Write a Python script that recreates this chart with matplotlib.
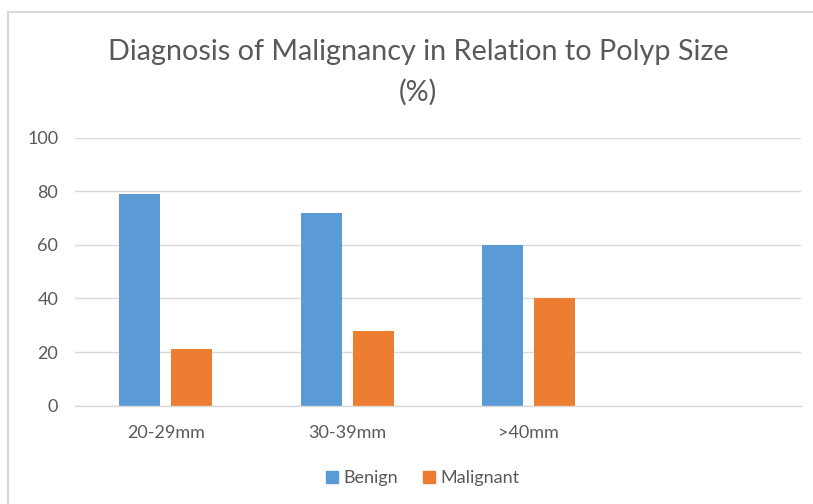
import matplotlib
matplotlib.use("Agg")
import matplotlib.pyplot as plt
from matplotlib.patches import Rectangle
from matplotlib.lines import Line2D
import numpy as np

categories = ["20-29mm", "30-39mm", ">40mm", ""]
benign = [79, 72, 60]
malignant = [21, 28, 40]
series_names = ["Benign", "Malignant"]
yticks = [0, 20, 40, 60, 80, 100]

blue = "#5b9bd5"
orange = "#ed7d31"
grid_c = "#d9d9d9"
text_c = "#595959"

plt.rcParams['font.family'] = ['Lato', 'DejaVu Sans']

W, H = 813, 504
fig = plt.figure(figsize=(W/100, H/100), dpi=100)
ax = fig.add_axes([75/W, 1-405.7/H, (801-75)/W, (405.7-137.5)/H])

x = np.arange(len(benign)) + 0.5
bw = 0.226
off = 0.142
ax.bar(x - off, benign, width=bw, color=blue, label=series_names[0], zorder=3)
ax.bar(x + off, malignant, width=bw, color=orange, label=series_names[1], zorder=3)

ax.set_xlim(0, len(categories))
ax.set_ylim(0, 100)
ax.set_yticks(yticks)
ax.set_yticklabels([str(v) for v in yticks], fontsize=13, color=text_c)
ax.set_xticks(np.arange(len(categories)) + 0.5)
ax.set_xticklabels(categories, fontsize=13, color=text_c)
ax.tick_params(axis='both', length=0)
ax.tick_params(axis='y', pad=12)
ax.tick_params(axis='x', pad=14)
ax.grid(axis='y', color=grid_c, linewidth=1, zorder=0)
for s in ['left', 'right', 'top']:
    ax.spines[s].set_visible(False)
ax.spines['bottom'].set_color(grid_c)
ax.spines['bottom'].set_linewidth(1)
ax.spines['bottom'].set_zorder(4)

fig.text(418/W, 1-52/H, "Diagnosis of Malignancy in Relation to Polyp Size", ha='center', va='center',
         fontsize=20.7, color=text_c)
fig.text(418/W, 1-92/H, "(%)", ha='center', va='center', fontsize=20.7, color=text_c)

handles = [Rectangle((0, 0), 1, 1, color=blue), Rectangle((0, 0), 1, 1, color=orange)]
fig.legend(handles, series_names, loc='center', bbox_to_anchor=(423/W, 1-478/H), ncol=2, frameon=False,
           fontsize=13, labelcolor=text_c, handlelength=0.65, handleheight=0.65, handletextpad=0.3,
           columnspacing=1.4)

# chart border
fig.add_artist(Line2D([7.5/W, 7.5/W], [0, 1-12/H], color=grid_c, linewidth=1.5, transform=fig.transFigure))
fig.add_artist(Line2D([7.5/W, 1], [1-12/H, 1-12/H], color=grid_c, linewidth=1.5, transform=fig.transFigure))

fig.savefig("out.png", dpi=100)
